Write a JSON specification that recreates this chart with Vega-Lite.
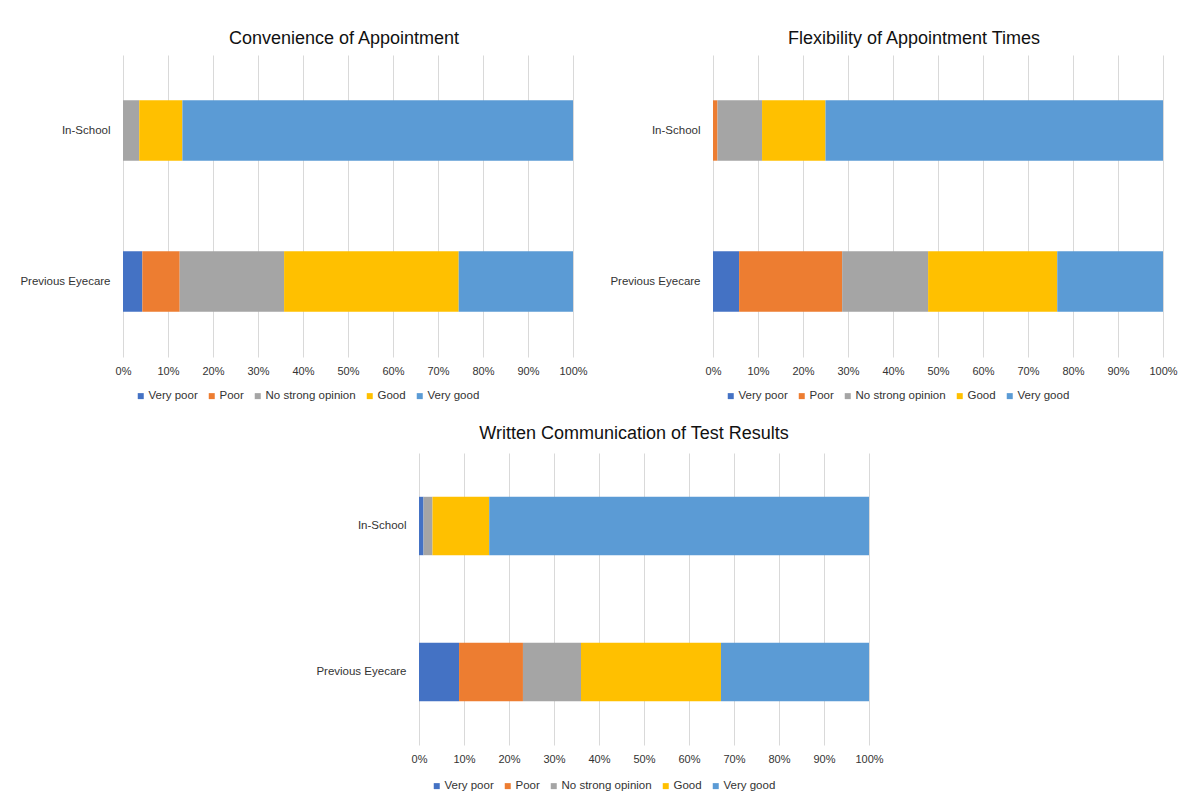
{
  "$schema": "https://vega.github.io/schema/vega-lite/v6.json",
  "padding": {"left": 13, "top": 30, "right": 0, "bottom": 0},
  "background": "white",
  "data": {"values": [
    {"chart": "Convenience of Appointment", "group": "In-School", "rating": "Very poor", "rank": 1, "value": 0},
    {"chart": "Convenience of Appointment", "group": "In-School", "rating": "Poor", "rank": 2, "value": 0},
    {"chart": "Convenience of Appointment", "group": "In-School", "rating": "No strong opinion", "rank": 3, "value": 3.6},
    {"chart": "Convenience of Appointment", "group": "In-School", "rating": "Good", "rank": 4, "value": 9.6},
    {"chart": "Convenience of Appointment", "group": "In-School", "rating": "Very good", "rank": 5, "value": 86.8},
    {"chart": "Convenience of Appointment", "group": "Previous Eyecare", "rating": "Very poor", "rank": 1, "value": 4.3},
    {"chart": "Convenience of Appointment", "group": "Previous Eyecare", "rating": "Poor", "rank": 2, "value": 8.3},
    {"chart": "Convenience of Appointment", "group": "Previous Eyecare", "rating": "No strong opinion", "rank": 3, "value": 23.2},
    {"chart": "Convenience of Appointment", "group": "Previous Eyecare", "rating": "Good", "rank": 4, "value": 38.8},
    {"chart": "Convenience of Appointment", "group": "Previous Eyecare", "rating": "Very good", "rank": 5, "value": 25.4},
    {"chart": "Flexibility of Appointment Times", "group": "In-School", "rating": "Very poor", "rank": 1, "value": 0},
    {"chart": "Flexibility of Appointment Times", "group": "In-School", "rating": "Poor", "rank": 2, "value": 1.0},
    {"chart": "Flexibility of Appointment Times", "group": "In-School", "rating": "No strong opinion", "rank": 3, "value": 9.9},
    {"chart": "Flexibility of Appointment Times", "group": "In-School", "rating": "Good", "rank": 4, "value": 14.1},
    {"chart": "Flexibility of Appointment Times", "group": "In-School", "rating": "Very good", "rank": 5, "value": 75.0},
    {"chart": "Flexibility of Appointment Times", "group": "Previous Eyecare", "rating": "Very poor", "rank": 1, "value": 5.8},
    {"chart": "Flexibility of Appointment Times", "group": "Previous Eyecare", "rating": "Poor", "rank": 2, "value": 22.9},
    {"chart": "Flexibility of Appointment Times", "group": "Previous Eyecare", "rating": "No strong opinion", "rank": 3, "value": 19.1},
    {"chart": "Flexibility of Appointment Times", "group": "Previous Eyecare", "rating": "Good", "rank": 4, "value": 28.7},
    {"chart": "Flexibility of Appointment Times", "group": "Previous Eyecare", "rating": "Very good", "rank": 5, "value": 23.5},
    {"chart": "Written Communication of Test Results", "group": "In-School", "rating": "Very poor", "rank": 1, "value": 1.0},
    {"chart": "Written Communication of Test Results", "group": "In-School", "rating": "Poor", "rank": 2, "value": 0},
    {"chart": "Written Communication of Test Results", "group": "In-School", "rating": "No strong opinion", "rank": 3, "value": 2.0},
    {"chart": "Written Communication of Test Results", "group": "In-School", "rating": "Good", "rank": 4, "value": 12.6},
    {"chart": "Written Communication of Test Results", "group": "In-School", "rating": "Very good", "rank": 5, "value": 84.4},
    {"chart": "Written Communication of Test Results", "group": "Previous Eyecare", "rating": "Very poor", "rank": 1, "value": 8.9},
    {"chart": "Written Communication of Test Results", "group": "Previous Eyecare", "rating": "Poor", "rank": 2, "value": 14.2},
    {"chart": "Written Communication of Test Results", "group": "Previous Eyecare", "rating": "No strong opinion", "rank": 3, "value": 12.9},
    {"chart": "Written Communication of Test Results", "group": "Previous Eyecare", "rating": "Good", "rank": 4, "value": 31.1},
    {"chart": "Written Communication of Test Results", "group": "Previous Eyecare", "rating": "Very good", "rank": 5, "value": 32.9}
  ]},
  "spacing": 23,
  "resolve": {"scale": {"x": "independent", "y": "independent", "color": "independent"}, "legend": {"color": "independent"}, "axis": {"x": "independent", "y": "independent"}},
  "vconcat": [
    {
      "spacing": 15,
      "resolve": {"scale": {"x": "independent", "y": "independent", "color": "independent"}, "legend": {"color": "independent"}, "axis": {"x": "independent", "y": "independent"}},
      "hconcat": [
        {
          "title": {"text": "Convenience of Appointment", "dx": -4, "offset": 7},
          "width": 450, "height": 302,
          "transform": [{"filter": "datum.chart === 'Convenience of Appointment'"}],
          "mark": {"type": "bar"},
          "encoding": {
            "y": {"field": "group", "type": "nominal", "sort": ["In-School", "Previous Eyecare"], "scale": {"paddingInner": 0.6, "paddingOuter": 0.3}, "axis": {"title": null, "minExtent": 110, "maxExtent": 110}},
            "x": {"field": "value", "type": "quantitative", "stack": "normalize", "scale": {"domain": [0, 1], "nice": false}, "axis": {"title": null, "format": "0%", "values": [0, 0.1, 0.2, 0.3, 0.4, 0.5, 0.6, 0.7, 0.8, 0.9, 1], "grid": true}},
            "color": {"field": "rating", "type": "nominal", "scale": {"domain": ["Very poor", "Poor", "No strong opinion", "Good", "Very good"], "range": ["#4472C4", "#ED7D31", "#A5A5A5", "#FFC000", "#5B9BD5"]}, "legend": {"orient": "none", "legendX": 12, "legendY": 335, "direction": "horizontal", "columns": 5, "title": null}},
            "order": {"field": "rank", "type": "quantitative"}
          }
        },
        {
          "title": {"text": "Flexibility of Appointment Times", "dx": -24, "offset": 7},
          "width": 450, "height": 302,
          "transform": [{"filter": "datum.chart === 'Flexibility of Appointment Times'"}],
          "mark": {"type": "bar"},
          "encoding": {
            "y": {"field": "group", "type": "nominal", "sort": ["In-School", "Previous Eyecare"], "scale": {"paddingInner": 0.6, "paddingOuter": 0.3}, "axis": {"title": null, "minExtent": 110, "maxExtent": 110}},
            "x": {"field": "value", "type": "quantitative", "stack": "normalize", "scale": {"domain": [0, 1], "nice": false}, "axis": {"title": null, "format": "0%", "values": [0, 0.1, 0.2, 0.3, 0.4, 0.5, 0.6, 0.7, 0.8, 0.9, 1], "grid": true}},
            "color": {"field": "rating", "type": "nominal", "scale": {"domain": ["Very poor", "Poor", "No strong opinion", "Good", "Very good"], "range": ["#4472C4", "#ED7D31", "#A5A5A5", "#FFC000", "#5B9BD5"]}, "legend": {"orient": "none", "legendX": 12, "legendY": 335, "direction": "horizontal", "columns": 5, "title": null}},
            "order": {"field": "rank", "type": "quantitative"}
          }
        }
      ]
    },
    {
      "spacing": 16,
      "resolve": {"scale": {"x": "independent", "y": "independent", "color": "independent"}, "legend": {"color": "independent"}, "axis": {"x": "independent", "y": "independent"}},
      "hconcat": [
        {
          "width": 170, "height": 10,
          "data": {"values": []},
          "mark": {"type": "point", "opacity": 0}
        },
        {
          "title": {"text": "Written Communication of Test Results", "dx": -10, "offset": 10},
          "width": 450, "height": 292,
          "transform": [{"filter": "datum.chart === 'Written Communication of Test Results'"}],
          "mark": {"type": "bar"},
          "encoding": {
            "y": {"field": "group", "type": "nominal", "sort": ["In-School", "Previous Eyecare"], "scale": {"paddingInner": 0.6, "paddingOuter": 0.3}, "axis": {"title": null, "minExtent": 110, "maxExtent": 110}},
            "x": {"field": "value", "type": "quantitative", "stack": "normalize", "scale": {"domain": [0, 1], "nice": false}, "axis": {"title": null, "format": "0%", "values": [0, 0.1, 0.2, 0.3, 0.4, 0.5, 0.6, 0.7, 0.8, 0.9, 1], "grid": true}},
            "color": {"field": "rating", "type": "nominal", "scale": {"domain": ["Very poor", "Poor", "No strong opinion", "Good", "Very good"], "range": ["#4472C4", "#ED7D31", "#A5A5A5", "#FFC000", "#5B9BD5"]}, "legend": {"orient": "none", "legendX": 12, "legendY": 327, "direction": "horizontal", "columns": 5, "title": null}},
            "order": {"field": "rank", "type": "quantitative"}
          }
        }
      ]
    }
  ],
  "config": {
    "view": {"stroke": null},
    "font": "Liberation Sans",
    "axis": {"domain": false, "ticks": false, "labelFont": "Liberation Sans", "labelFontSize": 11, "labelColor": "#333333", "gridColor": "#d9d9d9", "gridWidth": 1},
    "axisX": {"labelPadding": 8, "labelFlush": false, "labelOverlap": false},
    "axisY": {"grid": false, "labelFontSize": 11.5, "labelPadding": 13},
    "title": {"font": "Liberation Sans", "fontSize": 18, "fontWeight": "normal", "color": "#111111", "anchor": "middle", "baseline": "alphabetic"},
    "legend": {"labelFont": "Liberation Sans", "labelFontSize": 11.5, "labelColor": "#333333", "symbolType": "square", "symbolSize": 36, "symbolStrokeWidth": 0, "labelOffset": 2, "columnPadding": 8, "padding": 0}
  }
}
